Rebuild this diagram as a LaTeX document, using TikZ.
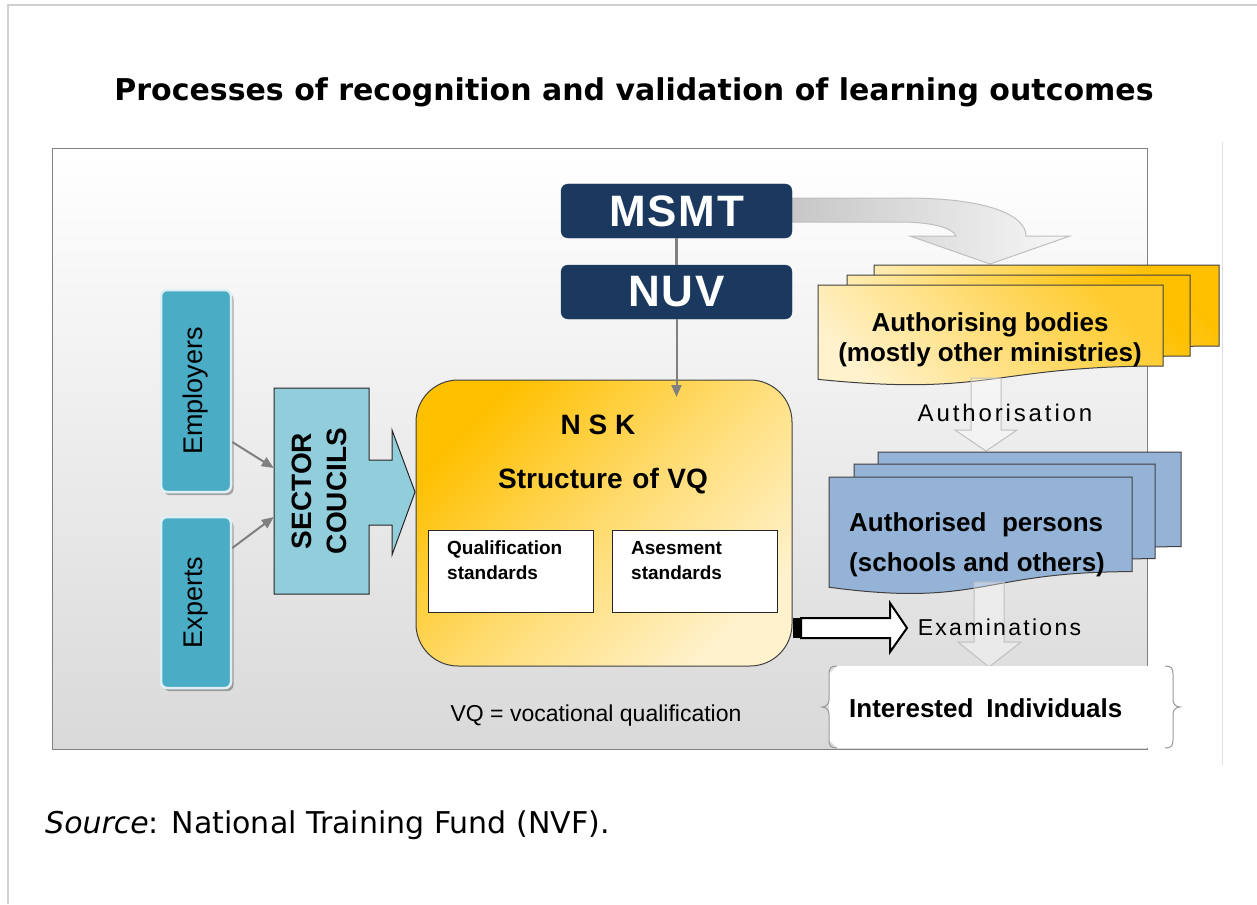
\documentclass[tikz,border=0pt]{standalone}
\usepackage{fontspec}
\usepackage{graphicx}
\setmainfont{Liberation Sans}
\newfontfamily\dejavu{DejaVu Sans}
\newfontfamily\spacedA[LetterSpace=12]{Liberation Sans}
\newfontfamily\spacedB[LetterSpace=10]{Liberation Sans}
\newfontfamily\spacedC[LetterSpace=4]{Liberation Sans}
\usetikzlibrary{arrows.meta,shadows}
\definecolor{navy}{RGB}{27,56,94}
\definecolor{empfill}{RGB}{75,172,198}
\definecolor{sectfill}{RGB}{146,205,220}
\definecolor{bluecard}{RGB}{149,179,215}
\definecolor{orangeA}{RGB}{255,192,0}
\definecolor{orangeB}{RGB}{255,242,204}
\definecolor{bgbottom}{RGB}{217,217,217}
\definecolor{bgline}{RGB}{128,128,128}
\definecolor{framegray}{RGB}{208,208,208}
\definecolor{arrgray}{RGB}{128,128,128}
\definecolor{lightarr}{RGB}{191,191,191}
\definecolor{edge}{RGB}{64,64,64}
\newcommand\docpath[4]{(#1,#2) -- ({#1+#3},#2) -- ({#1+#3},{#2+0.802*#4}) .. controls ({#1+0.5*#3},{#2+0.802*#4}) and ({#1+0.5*#3},{#2+1.107*#4}) .. (#1,{#2+0.934*#4}) -- cycle}
\tikzset{
  navybox/.style={rectangle, rounded corners=7pt, fill=navy, draw=navy, text=white,
    font=\spacedC\bfseries\fontsize{44}{44}\selectfont, minimum width=231pt, minimum height=54pt, inner sep=0pt},
  tealbox/.style={rectangle, rounded corners=6pt, fill=empfill, draw=white!82!empfill, line width=2.5pt,
    minimum width=70pt, inner sep=0pt, font=\fontsize{27}{27}\selectfont,
    drop shadow={shadow xshift=2.5pt, shadow yshift=-3pt, opacity=0.3, fill=black}},
  garrow/.style={draw=arrgray, line width=2pt, -{Triangle[length=12pt,width=10pt]}},
  gline/.style={draw=arrgray, line width=2.5pt},
  sectorshape/.style={fill=sectfill, draw=black!85, line width=1pt},
  nskbox/.style={rectangle, rounded corners=42pt, draw=edge, line width=1pt,
    top color=orangeA, bottom color=orangeB, middle color=orangeA!45!orangeB, shading angle=45,
    minimum width=376pt, minimum height=286pt, inner sep=0pt},
  whitebox/.style={rectangle, draw=black!85, fill=white, line width=1pt,
    minimum width=165pt, minimum height=82pt, inner sep=0pt},
  smalltext/.style={font=\bfseries\fontsize{19}{25}\selectfont, align=left, inner sep=0pt, anchor=north west},
  bigtext/.style={font=\bfseries\fontsize{28}{34}\selectfont, inner sep=0pt},
  cardtext/.style={font=\bfseries\fontsize{26}{30}\selectfont, inner sep=0pt, align=center},
  ocard/.style={draw=edge, line width=1pt, top color=orangeA, bottom color=orangeB, shading angle=-45},
  ocardfront/.style={draw=edge, line width=1pt, top color=orangeA!78!orangeB, bottom color=orangeB, shading angle=-45},
  bcard/.style={draw=edge, line width=1pt, fill=bluecard},
  downarrow/.style={draw=lightarr, line width=1pt, fill=white, fill opacity=0.35},
  curvarrow/.style={draw=lightarr, line width=1pt, left color=black!22, right color=white!97!black},
  blockarrow/.style={draw=black, line width=2pt, fill=white},
  brace/.style={draw=black!40, line width=1pt},
  plain/.style={inner sep=0pt}
}
\begin{document}
\begin{tikzpicture}[x=1pt,y=-1pt]
\useasboundingbox (0,0) rectangle (1257,904);
\fill[white] (0,0) rectangle (1257,904);
% page frame
\draw[framegray, line width=2pt] (8,904) -- (8,5) -- (1257,5);
\draw[black!12, line width=1pt] (1222,142) -- (1222,765);
% title
\node[plain, font=\dejavu\bfseries\fontsize{30}{30}\selectfont] (title) at (634,92)
  {Processes of recognition and validation of learning outcomes};
% diagram background
\draw[bgline, line width=1pt, top color=white, bottom color=bgbottom] (52,149) rectangle (1147,749);
% curved arrow MSMT -> authorising bodies
\path[curvarrow] (792,198) -- (905,198) .. controls (990,198) and (1026,216) .. (1026,236)
  -- (1070,236) -- (990,264) -- (910,236) -- (956,236)
  .. controls (952,227) and (930,222) .. (898,222) -- (792,222) -- cycle;
% MSMT / NUV
\node[navybox] (msmt) at (676.5,211) {MSMT};
\node[navybox] (nuv) at (676.5,292) {NUV};
\draw[gline] (msmt) -- (nuv);
% NSK
\node[nskbox] (nsk) at (604,523) {};
\coordinate (nskin) at (676.5,397);
\draw[garrow] (nuv) -- (nskin);
\node[bigtext] (nsklbl) at (598,425) {N S K};
\node[bigtext] (vq) at (603,481) {Structure\hspace{0.35em}of\hspace{0.3em}VQ};
\node[whitebox] (qual) at (510.5,571) {};
\node[whitebox] (asess) at (694.5,571) {};
\node[smalltext] (qualtxt) at (447,541) {Qualification\\standards};
\node[smalltext] (asesstxt) at (631,541) {Asesment\\standards};
% employers / experts
\node[tealbox, minimum height=202pt] (emp) at (196,391) {\rotatebox{90}{Employers}};
\node[tealbox, minimum height=171pt] (exp) at (196,602.5) {\rotatebox{90}{Experts}};
% sector councils
\path[sectorshape] (274,388) -- (369,388) -- (369,460) -- (392,460) -- (392,430) -- (415,492)
  -- (392,555) -- (392,525) -- (369,525) -- (369,594) -- (274,594) -- cycle;
\node[plain, minimum width=95pt, minimum height=206pt] (sector) at (321.5,491)
  {\rotatebox{90}{\bfseries\fontsize{28}{35}\selectfont\begin{tabular}{@{}c@{}}SECTOR\\COUCILS\end{tabular}}};
\draw[garrow] ([yshift=-51pt]emp.east) -- ([yshift=23pt]sector.west);
\draw[garrow] ([yshift=54.5pt]exp.east) -- ([yshift=-26pt]sector.west);
% authorising bodies cards
\path[ocard] \docpath{874}{265}{345}{101};
\path[ocard] \docpath{847}{275}{343}{101};
\path[ocardfront] \docpath{818}{285}{345}{101};
\node[cardtext] (authb) at (990,340) {Authorising bodies\\(mostly other ministries)};
% authorisation arrow
\path[downarrow] (971,378) -- (1001,378) -- (1001,430) -- (1017,430) -- (986,451) -- (955,430) -- (971,430) -- cycle;
\node[plain, font=\spacedA\fontsize{24}{24}\selectfont] (authlbl) at (1005,413) {Authorisation};
% authorised persons cards
\path[bcard] \docpath{878}{452}{303}{118};
\path[bcard] \docpath{854}{464}{301}{118};
\path[bcard] \docpath{829}{477}{303}{118};
% examinations down arrow
\path[downarrow] (974,582) -- (1004,582) -- (1004,642) -- (1021,642) -- (989,667) -- (958,642) -- (974,642) -- cycle;
\node[cardtext, align=left, anchor=west, font=\bfseries\fontsize{26}{40}\selectfont] (authp) at (849,545)
  {Authorised\hspace{0.6em}persons\\(schools and others)};
% examinations block arrow
\fill[black] (793,618) rectangle (801,638);
\path[blockarrow] (801,618) -- (890,618) -- (890,603) -- (907,628) -- (890,652) -- (890,638) -- (801,638) -- cycle;
\node[plain, font=\spacedB\fontsize{23}{23}\selectfont] (examlbl) at (999.5,627) {Examinations};
% interested individuals
\fill[white] (837,666) -- (1165,666) -- (1173,674) -- (1173,740) -- (1165,748) -- (837,748) -- (829,740) -- (829,674) -- cycle;
\draw[brace] (837,666) .. controls (831,666) and (829,668) .. (829,674) -- (829,700)
  .. controls (829,704) and (826,707) .. (822,707) .. controls (826,707) and (829,710) .. (829,714)
  -- (829,740) .. controls (829,746) and (831,748) .. (837,748);
\draw[brace] (1165,666) .. controls (1171,666) and (1173,668) .. (1173,674) -- (1173,700)
  .. controls (1173,704) and (1176,707) .. (1180,707) .. controls (1176,707) and (1173,710) .. (1173,714)
  -- (1173,740) .. controls (1173,746) and (1171,748) .. (1165,748);
\node[cardtext, anchor=west] (indiv) at (849,708) {Interested\hspace{0.5em}Individuals};
% note
\node[plain, font=\fontsize{23}{23}\selectfont] (vqnote) at (596,716) {VQ = vocational qualification};
% source
\node[plain, anchor=west, font=\dejavu\fontsize{30}{30}\selectfont] (source) at (45,825)
  {\textit{Source}: National Training Fund (NVF).};
\end{tikzpicture}
\end{document}
